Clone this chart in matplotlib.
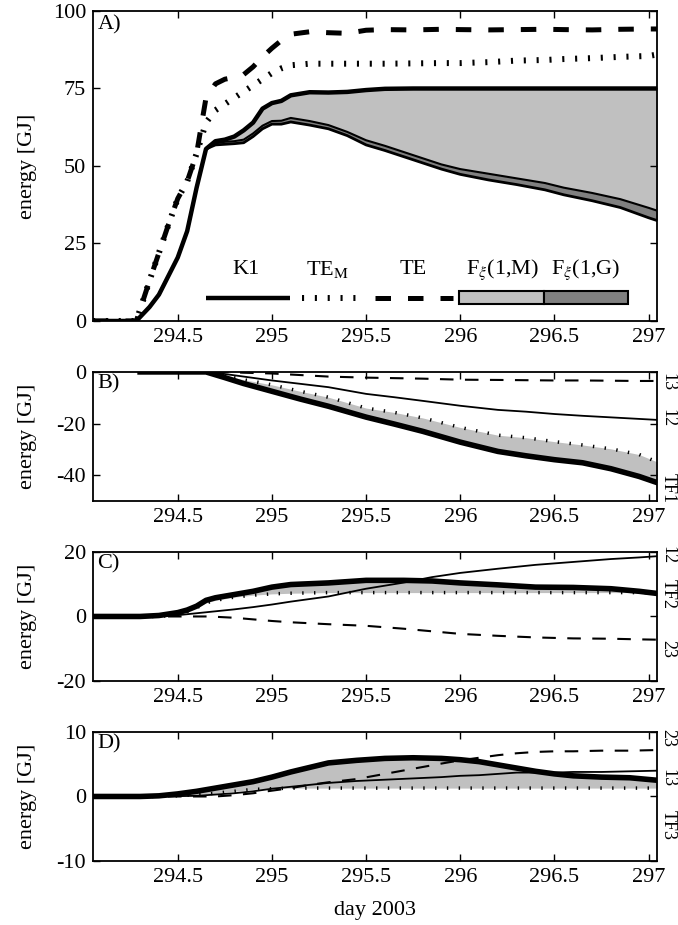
import matplotlib.pyplot as plt
from matplotlib.patches import Rectangle
from matplotlib.ticker import FormatStrFormatter
import matplotlib.transforms as mtransforms

plt.rcParams['font.family'] = ['Liberation Serif', 'DejaVu Serif']
plt.rcParams['mathtext.fontset'] = 'stix'
plt.rcParams['axes.unicode_minus'] = False
plt.rcParams['font.size'] = 16

# --- panel A: energy budget ---
day_a = [294.05, 294.2, 294.28, 294.35, 294.40, 294.45, 294.50, 294.55, 294.60, 294.65,
         294.70, 294.75, 294.80, 294.85, 294.90, 294.95, 295.0, 295.05, 295.1, 295.2,
         295.3, 295.4, 295.5, 295.6, 295.75, 295.9, 296.0, 296.15, 296.3, 296.45,
         296.55, 296.7, 296.85, 297.0, 297.05]
k1 = [0, 0, 0, 4.5, 8.5, 14.5, 20.5, 29, 43, 55.5,
      58, 58.5, 59.5, 61.5, 64, 68.5, 70.3, 71, 72.8, 73.8,
      73.7, 73.9, 74.5, 74.9, 75, 75, 75, 75, 75, 75,
      75, 75, 75, 75, 75]
k1_minus_fm = [0, 0, 0, 4.5, 8.5, 14.5, 20.5, 29, 43, 55.5,
               57.3, 57.8, 58.0, 58.5, 60.5, 63, 64.5, 64.6, 65.5, 64.5,
               63.2, 61, 58.3, 56.5, 53.5, 50.5, 49, 47.5, 46, 44.5,
               43, 41.3, 39.3, 36.5, 35.5]
k1_minus_fmg = [0, 0, 0, 4.5, 8.5, 14.5, 20.5, 29, 43, 55.5,
                56.8, 57, 57.2, 57.5, 59.5, 62, 63.5, 63.5, 64.2, 63.2,
                62, 59.8, 56.8, 55, 52, 49, 47.3, 45.5, 44, 42.3,
                40.7, 38.8, 36.6, 33.3, 32.3]
te = [0, 0, 0, 13, 22, 31, 39.5, 45, 54, 72,
      76.5, 78, 78.6, 79.5, 82, 85.2, 88, 90.5, 92.5, 93.3,
      93, 92.8, 93.8, 94, 93.9, 94.1, 94, 93.9, 94, 94.1,
      94, 93.9, 94.1, 94.2, 94.2]
te_m = [0, 0, 0, 13, 22, 31, 39.5, 45, 54, 64,
        68, 70, 72, 74, 76, 78, 80, 81.5, 82.5, 83,
        83, 83, 83, 83, 83.1, 83.2, 83.2, 83.5, 84, 84.2,
        84.5, 84.8, 85.2, 85.5, 86]

# --- panel B ---
day_b = [294.3, 294.5, 294.65, 294.75, 294.85, 295.0, 295.15, 295.3, 295.5, 295.65,
         295.8, 296.0, 296.2, 296.35, 296.5, 296.65, 296.8, 296.95, 297.05]
tf1 = [0, 0, 0, -2.2, -4.5, -7.5, -10.5, -13.3, -17.5, -20.2,
       -23, -27.2, -30.8, -32.5, -34, -35.2, -37.5, -40.5, -43]
tf1_dot = [0, 0, 0, -1.5, -3, -5, -7.5, -9.8, -14, -15.7,
           -17.8, -21.5, -24.5, -25.5, -27, -28.3, -29.8, -32, -35]
b12 = [0, 0, 0, -0.8, -1.8, -3.3, -4.6, -5.9, -8.5, -9.8,
       -11.2, -13.1, -14.7, -15.4, -16.3, -17, -17.6, -18.2, -18.6]
b13 = [0, 0, 0, 0, -0.3, -0.6, -1.2, -1.8, -2.2, -2.4,
       -2.6, -3.0, -3.1, -3.2, -3.3, -3.3, -3.4, -3.5, -3.5]

# --- panel C ---
day_c = [294.05, 294.3, 294.4, 294.5, 294.55, 294.6, 294.65, 294.7, 294.8, 294.9,
         295.0, 295.1, 295.3, 295.5, 295.7, 295.85, 296.0, 296.2, 296.4, 296.6,
         296.8, 296.95, 297.05]
tf2 = [0, 0, 0.3, 1.2, 2, 3.2, 5, 5.8, 6.8, 7.8,
       9.1, 9.9, 10.4, 11.2, 11.2, 11, 10.4, 9.8, 9.1, 9,
       8.6, 7.8, 7.1]
tf2_dot = [0, 0, 0, 0.5, 1.5, 2.7, 4.2, 5.0, 6.0, 6.6,
           7.0, 7.2, 7.4, 7.4, 7.4, 7.4, 7.4, 7.4, 7.4, 7.4,
           7.4, 7.4, 7.4]
c12 = [0, 0, 0, 0.4, 0.7, 1.0, 1.3, 1.6, 2.2, 2.9,
       3.7, 4.6, 6.2, 8.6, 10.5, 12.2, 13.5, 14.8, 16.0, 16.9,
       17.8, 18.3, 18.7]
c23 = [0, 0, 0, 0, 0, 0, 0, -0.1, -0.4, -0.9,
       -1.4, -1.8, -2.4, -2.9, -3.8, -4.6, -5.4, -6.0, -6.5, -6.8,
       -6.9, -7.1, -7.2]

# --- panel D ---
day_d = [294.05, 294.3, 294.4, 294.5, 294.6, 294.7, 294.8, 294.9, 295.0, 295.1,
         295.2, 295.3, 295.45, 295.6, 295.75, 295.9, 296.0, 296.1, 296.2, 296.3,
         296.4, 296.5, 296.6, 296.75, 296.9, 297.05]
tf3 = [0, 0, 0.1, 0.4, 0.8, 1.3, 1.8, 2.3, 3.0, 3.8,
       4.5, 5.2, 5.6, 5.9, 6.0, 5.9, 5.7, 5.4, 4.9, 4.4,
       3.9, 3.5, 3.2, 3.0, 2.9, 2.5]
tf3_dot = [0, 0, 0, 0.1, 0.3, 0.5, 0.8, 1.1, 1.2, 1.3,
           1.3, 1.3, 1.3, 1.3, 1.3, 1.3, 1.3, 1.3, 1.3, 1.3,
           1.3, 1.3, 1.3, 1.3, 1.3, 1.3]
d13 = [0, 0, 0, 0.05, 0.1, 0.3, 0.5, 0.8, 1.2, 1.5,
       1.8, 2.1, 2.4, 2.6, 2.8, 3.0, 3.2, 3.3, 3.5, 3.7,
       3.7, 3.7, 3.8, 3.8, 3.9, 4.0]
d23 = [0, 0, 0, 0, 0, 0, 0.2, 0.5, 0.9, 1.3,
       1.8, 2.2, 2.7, 3.5, 4.3, 5.1, 5.6, 6.0, 6.4, 6.7,
       6.9, 7.0, 7.0, 7.1, 7.1, 7.2]

xticks = [294.5, 295, 295.5, 296, 296.5, 297]
light = '#c0c0c0'
dark = '#808080'


def style_axes(ax, ylim, yticks, letter):
    ax.set_xlim(294.05, 297.045)
    ax.set_ylim(*ylim)
    ax.set_xticks(xticks)
    ax.set_yticks(yticks)
    ax.xaxis.set_major_formatter(FormatStrFormatter('%g'))
    ax.tick_params(direction='in', top=True, right=True, length=5, width=1,
                   labelsize=16, pad=5)
    for s in ax.spines.values():
        s.set_linewidth(1.3)
    ax.set_ylabel('energy [GJ]', fontsize=16)
    ax.yaxis.set_label_coords(-0.1, 0.5)
    ax.text(0.008, 0.985, letter, transform=ax.transAxes, ha='left', va='top',
            fontsize=16)


def side_labels(ax, labels, ys):
    trans = mtransforms.blended_transform_factory(ax.transAxes, ax.transData)
    for lab, y in zip(labels, ys):
        ax.text(1.0195, y, lab, transform=trans, rotation=270, ha='center',
                va='center', fontsize=13, clip_on=False)


fig = plt.figure(figsize=(6.78, 9.25), dpi=100)

# A)
axA = fig.add_axes([0.1372, 0.6530, 0.8319, 0.3351])
axA.fill_between(day_a, k1_minus_fm, k1, color=light, lw=0)
axA.fill_between(day_a, k1_minus_fmg, k1_minus_fm, color=dark, lw=0)
axA.plot(day_a, k1_minus_fmg, color='k', lw=2)
axA.plot(day_a, k1_minus_fm, color='k', lw=1.5)
axA.plot(day_a, k1, color='k', lw=3.2, solid_capstyle='butt')
axA.plot(day_a, te_m, color='k', lw=4.3, dashes=(0.35, 1.8))
axA.plot(day_a, te, color='k', lw=3.6, dashes=(3.1, 3.4))
style_axes(axA, (0, 100), [0, 25, 50, 75, 100], 'A)')

# key drawn inside panel A
key_y = 0.075
key_text_y = 0.165
axA.plot([0.200, 0.349], [key_y, key_y], transform=axA.transAxes, color='k', lw=3.2,
         solid_capstyle='butt')
axA.plot([0.370, 0.479], [key_y, key_y], transform=axA.transAxes, color='k', lw=4.3,
         dashes=(0.35, 1.8))
axA.plot([0.500, 0.638], [key_y, key_y], transform=axA.transAxes, color='k', lw=3.6,
         dashes=(3.1, 3.4))
axA.add_patch(Rectangle((0.649, 0.055), 0.151, 0.043, transform=axA.transAxes,
                        facecolor=light, edgecolor='k', lw=1.5))
axA.add_patch(Rectangle((0.800, 0.055), 0.149, 0.043, transform=axA.transAxes,
                        facecolor=dark, edgecolor='k', lw=1.5))
key_labels = ['K1', r'TE$_{\mathrm{M}}$', 'TE', r'F$_{\xi}$(1,M)', r'F$_{\xi}$(1,G)']
key_x = [0.272, 0.415, 0.568, 0.726, 0.873]
for lab, x in zip(key_labels, key_x):
    axA.text(x, key_text_y, lab, transform=axA.transAxes, ha='center', va='center',
             fontsize=16)

# B)
axB = fig.add_axes([0.1372, 0.4584, 0.8319, 0.1395])
axB.fill_between(day_b, tf1, tf1_dot, color=light, lw=0)
axB.plot(day_b, tf1_dot, color='k', lw=2.5, dashes=(0.4, 3.0))
axB.plot(day_b, b13, color='k', lw=1.5, dashes=(6.5, 5.5))
axB.plot(day_b, b12, color='k', lw=1.3)
axB.plot(day_b, tf1, color='k', lw=4)
style_axes(axB, (-50, 0), [-40, -20, 0], 'B)')
side_labels(axB, ['13', '12', 'TF1'], [-4, -18, -45])

# C)
axC = fig.add_axes([0.1372, 0.2638, 0.8319, 0.1395])
axC.fill_between(day_c, tf2_dot, tf2, color=light, lw=0)
axC.plot(day_c, tf2_dot, color='k', lw=2.5, dashes=(0.4, 3.0))
axC.plot(day_c, c23, color='k', lw=1.5, dashes=(6.5, 5.5))
axC.plot(day_c, c12, color='k', lw=1.3)
axC.plot(day_c, tf2, color='k', lw=4)
style_axes(axC, (-20, 20), [-20, 0, 20], 'C)')
side_labels(axC, ['12', 'TF2', '23'], [19, 7, -10])

# D)
axD = fig.add_axes([0.1372, 0.0692, 0.8319, 0.1395])
axD.fill_between(day_d, tf3_dot, tf3, color=light, lw=0)
axD.plot(day_d, tf3_dot, color='k', lw=2.5, dashes=(0.4, 3.0))
axD.plot(day_d, d23, color='k', lw=1.5, dashes=(6.5, 5.5))
axD.plot(day_d, d13, color='k', lw=1.3)
axD.plot(day_d, tf3, color='k', lw=4)
style_axes(axD, (-10, 10), [-10, 0, 10], 'D)')
side_labels(axD, ['23', '13', 'TF3'], [9.1, 2.9, -4.4])
axD.set_xlabel('day 2003', fontsize=16, labelpad=10)

fig.savefig('out.png', dpi=100)
